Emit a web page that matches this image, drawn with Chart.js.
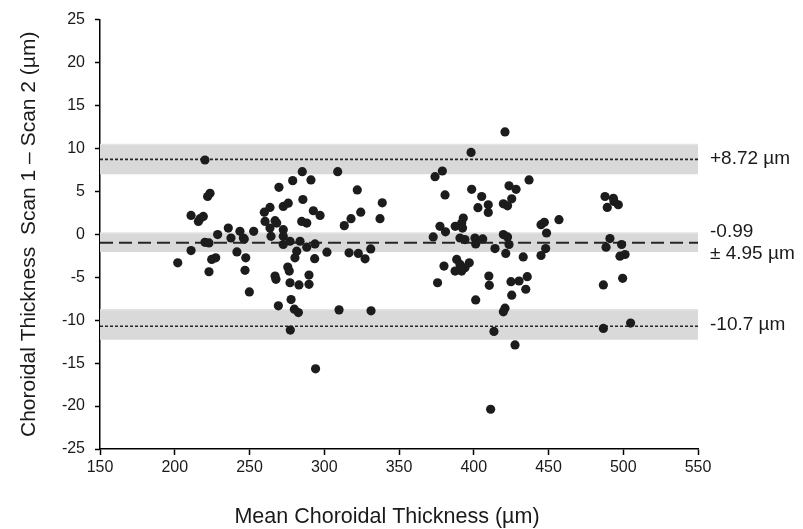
<!DOCTYPE html>
<html>
<head>
<meta charset="utf-8">
<script src="https://cdn.jsdelivr.net/npm/chart.js@4.4.1/dist/chart.umd.min.js"></script>
<style>
    html, body { margin: 0; padding: 0; background: #ffffff; }
    #wrap { width: 803px; height: 529px; }
</style>
</head>
<body>
<div id="wrap"><canvas id="blandAltman" width="803" height="529"></canvas></div>
<script>
// Mean of the two scans (µm)
const meanThickness = [
    202.0, 210.9, 210.9, 215.8, 216.9, 219.1, 220.2, 222.0, 223.6, 220.2,
    222.9, 228.7, 224.7, 227.4, 222.9, 235.8, 237.6, 243.6, 245.9, 246.5,
    252.8, 241.6, 247.5, 247.0, 249.9, 259.9, 263.7, 260.4, 267.1, 268.2,
    263.7, 264.4, 272.6, 272.6, 272.6, 277.1, 269.7, 272.6, 275.9, 278.9,
    267.1, 267.7, 275.6, 276.6, 277.1, 269.3, 277.8, 280.0, 282.7, 277.3,
    285.3, 285.7, 284.9, 288.3, 283.8, 281.6, 280.4, 283.1, 291.1, 292.7,
    297.2, 293.8, 288.3, 293.6, 289.8, 289.8, 294.2, 301.8, 309.0, 309.9,
    313.4, 316.6, 317.9, 322.1, 322.8, 324.4, 327.3, 331.1, 331.3, 337.3,
    338.8, 374.1, 379.0, 380.8, 377.4, 381.1, 372.9, 387.6, 393.0, 391.9,
    392.5, 390.8, 394.1, 380.1, 388.6, 390.8, 387.5, 391.9, 394.1, 397.0,
    375.8, 398.2, 398.6, 405.3, 402.8, 409.7, 409.7, 419.8, 422.6, 423.6,
    428.3, 425.4, 437.0, 420.9, 400.8, 406.0, 401.3, 414.2, 419.8, 422.6,
    423.6, 421.4, 433.1, 445.0, 447.2, 448.7, 457.0, 448.1, 445.0, 410.1,
    410.4, 424.9, 430.3, 435.8, 434.8, 425.4, 401.3, 420.9, 419.8, 413.5,
    427.6, 411.3, 486.7, 487.8, 493.4, 489.3, 493.8, 496.7, 491.1, 488.5,
    498.9, 497.8, 501.2, 499.6, 486.7, 504.9
];

// Scan 1 - Scan 2 (µm), same order
const scanDiff = [
    -3.32, 2.20, -1.89, 1.50, 1.82, 2.08, 8.65, 4.40, 4.78, -0.93,
    -1.01, -0.03, -2.93, -2.74, -4.36, 0.73, -0.43, 0.35, -0.43, -0.55,
    0.35, -2.05, -2.74, -4.20, -6.71, 2.58, 3.13, 1.50, 1.59, 1.31,
    0.73, -0.23, 0.54, -0.23, -1.19, -0.81, 5.47, 3.24, 3.62, 6.25,
    -4.86, -5.24, -3.82, -4.28, -5.64, -8.33, -7.60, -8.72, -9.11, -11.15,
    7.29, 4.05, 1.50, 1.31, -0.81, -1.97, -2.74, -5.90, 6.33, 2.74,
    2.20, -1.12, -1.50, -2.84, -4.75, -5.82, -15.66, -2.08, 7.29, -8.80,
    1.01, -2.16, 1.82, 5.17, -2.23, 2.58, -2.86, -1.70, -8.91, 1.82,
    3.67, 6.71, 7.37, 4.59, 0.93, 0.29, -0.31, 0.93, 1.89, 1.31,
    0.73, -0.43, -0.61, -3.70, -2.93, -3.51, -4.28, -4.28, -3.90, -3.32,
    -5.64, 9.53, 5.24, 4.40, 3.10, 3.44, 2.55, 3.55, 3.32, 5.64,
    5.24, 4.13, 6.33, 11.92, -0.43, -0.54, -1.12, -1.66, -0.03, -0.31,
    -1.19, -2.23, -2.63, 1.12, 1.39, 0.15, 1.70, -1.66, -2.47, -4.86,
    -5.94, -5.52, -5.44, -4.94, -6.40, -7.09, -7.64, -8.60, -9.03, -11.31,
    -12.88, -20.37, -5.90, 4.40, 4.20, 3.13, 3.82, 3.44, -0.50, -1.50,
    -1.19, -2.55, -2.35, -5.13, -10.96, -10.34
];

// Upper limit, mean bias, lower limit and their confidence bands
const limitValues = [8.72, -0.99, -10.7];
const bandHigh = [10.45, 0.15, -8.8];
const bandLow = [6.98, -2.05, -12.27];
const limitDash = [[3, 2], [13, 6], [3, 2]];
const xRange = [150, 550];

const FONT = '"Liberation Sans", Arial, sans-serif';
const X_TITLE = 'Mean Choroidal Thickness (µm)';

const datasets = [];

// Points first so they are drawn on top
datasets.push({
    type: 'scatter',
    data: meanThickness.map((x, i) => ({ x: x, y: scanDiff[i] })),
    backgroundColor: '#1c1c1c',
    borderColor: '#1c1c1c',
    borderWidth: 0,
    pointRadius: 4.6,
    order: 0
});

limitValues.forEach((v, i) => {
    // dashed limit line
    datasets.push({
        type: 'line',
        data: xRange.map(x => ({ x: x, y: v })),
        borderColor: '#262626',
        borderWidth: i === 1 ? 2 : 1.6,
        borderDash: limitDash[i],
        pointRadius: 0,
        fill: false,
        order: 1
    });
    // grey confidence band
    datasets.push({
        type: 'line',
        data: xRange.map(x => ({ x: x, y: bandHigh[i] })),
        borderColor: '#e3e3e3',
        borderWidth: 1.5,
        pointRadius: 0,
        fill: { target: { value: bandLow[i] }, above: '#d9d9d9', below: '#d9d9d9' },
        order: 2
    });
});

// Text next to each line on the right, plus the x axis title
const limitLabels = {
    id: 'limitLabels',
    afterDraw(chart) {
        const ctx = chart.ctx;
        const yScale = chart.scales.y;
        const x = chart.chartArea.right + 12;
        ctx.save();
        ctx.font = '19px ' + FONT;
        ctx.fillStyle = '#1a1a1a';
        ctx.textAlign = 'left';
        ctx.textBaseline = 'middle';
        const yUp = yScale.getPixelForValue(limitValues[0]);
        const yMid = yScale.getPixelForValue(limitValues[1]);
        const yLow = yScale.getPixelForValue(limitValues[2]);
        ctx.fillText('+' + limitValues[0].toFixed(2) + ' µm', x, yUp - 1);
        ctx.fillText(limitValues[1].toFixed(2), x, yMid - 11);
        ctx.fillText('± 4.95 µm', x, yMid + 11);
        ctx.fillText(limitValues[2].toFixed(1) + ' µm', x, yLow - 1);

        // x title sits a little left of the plot centre in the original
        ctx.font = '21.5px ' + FONT;
        ctx.textAlign = 'center';
        ctx.fillText(X_TITLE, 387, 517);
        ctx.restore();
    }
};

new Chart(document.getElementById('blandAltman'), {
    type: 'scatter',
    data: { datasets: datasets },
    plugins: [limitLabels],
    options: {
        responsive: false,
        animation: false,
        layout: { padding: { top: 17, right: 105, bottom: 0, left: 0 } },
        plugins: {
            legend: { display: false },
            tooltip: { enabled: false }
        },
        scales: {
            x: {
                type: 'linear',
                min: xRange[0],
                max: xRange[1],
                afterFit: (scale) => { scale.height = 80; },
                border: { color: '#000000', width: 1.5 },
                grid: { drawOnChartArea: false, tickLength: 6, tickColor: '#000000', tickWidth: 1.5 },
                ticks: { stepSize: 50, padding: 3, color: '#1a1a1a', font: { family: FONT, size: 16 } },
                title: { display: false }
            },
            y: {
                type: 'linear',
                min: -25,
                max: 25,
                afterFit: (scale) => { scale.width = 100; },
                border: { color: '#000000', width: 1.5 },
                grid: { drawOnChartArea: false, tickLength: 5, tickColor: '#000000', tickWidth: 1.5 },
                ticks: { stepSize: 5, padding: 10, color: '#1a1a1a', font: { family: FONT, size: 16 } },
                title: {
                    display: true,
                    text: 'Choroidal Thickness  Scan 1 – Scan 2 (µm)',
                    color: '#1a1a1a',
                    font: { family: FONT, size: 21 },
                    padding: { top: 17, bottom: 0 }
                }
            }
        }
    }
});
</script>
</body>
</html>
